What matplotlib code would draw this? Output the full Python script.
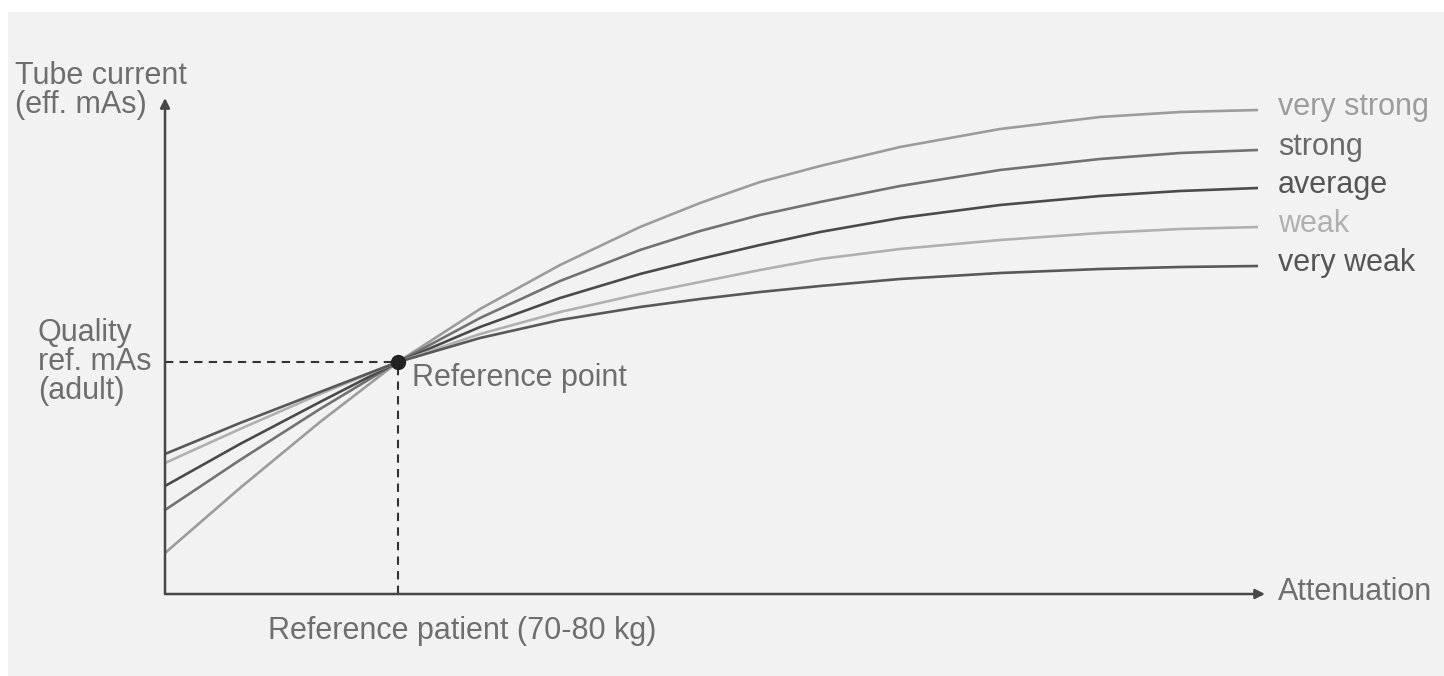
import numpy as np
import matplotlib
matplotlib.use('Agg')
import matplotlib.pyplot as plt
from matplotlib.patches import Rectangle

plt.rcParams['font.family'] = ['Liberation Sans', 'DejaVu Sans']

# attenuation (arbitrary units, 0 = axis origin, 100 = arrow tip)
attenuation = [0, 6.82, 14.09, 21.18, 28.64, 35.91, 43.18, 48.64, 54.09,
               59.55, 66.82, 75.91, 85.0, 92.27, 99.36]

# tube current (arbitrary units) for each modulation strength
very_strong = [8.2, 21.2, 34.4, 46.4, 57.0, 65.8, 73.4, 78.2, 82.4, 85.6, 89.4, 93.0, 95.4, 96.4, 96.8]
strong      = [16.8, 26.8, 37.0, 46.4, 55.2, 62.6, 68.8, 72.6, 75.8, 78.4, 81.6, 84.8, 87.0, 88.2, 88.8]
average     = [21.6, 30.0, 38.4, 46.4, 53.4, 59.2, 64.0, 67.0, 69.8, 72.4, 75.2, 77.8, 79.6, 80.6, 81.2]
weak        = [26.2, 33.0, 40.0, 46.4, 52.0, 56.4, 60.0, 62.4, 64.8, 67.0, 69.0, 70.8, 72.2, 73.0, 73.4]
very_weak   = [28.0, 34.2, 40.4, 46.4, 51.2, 54.8, 57.4, 59.0, 60.4, 61.6, 63.0, 64.2, 65.0, 65.4, 65.6]

series_labels = ['very strong', 'strong', 'average', 'weak', 'very weak']
series_values = [very_strong, strong, average, weak, very_weak]
line_colors = ['#9c9c9c', '#727272', '#4a4a4a', '#b0b0b0', '#585858']
text_colors = ['#9c9c9c', '#6a6a6a', '#555555', '#b0b0b0', '#555555']

ref_point = (21.18, 46.4)

fig = plt.figure(figsize=(14.44, 6.76), dpi=100, facecolor='white')
bg = Rectangle((8 / 1444, 0), 1 - 8 / 1444, 1 - 12 / 676,
               transform=fig.transFigure, facecolor='#f2f2f2',
               edgecolor='none', zorder=-10)
fig.add_artist(bg)
ax = fig.add_axes([0, 0, 1, 1])
ax.set_facecolor('none')
ax.patch.set_alpha(0)
ax.set_xlim(-15, 116.27)
ax.set_ylim(-16.4, 118.8)
ax.axis('off')

txt = '#6e6e6e'
fs = 22

# curves
for lab, vals, lc, tc in zip(series_labels, series_values, line_colors, text_colors):
    ax.plot(attenuation, vals, color=lc, lw=1.9, solid_capstyle='butt',
            solid_joinstyle='round', zorder=3)
    ax.text(101.2, vals[-1] + 0.5, lab, color=tc, fontsize=fs, ha='left', va='center')

# axes with arrows
arrow_kw = dict(arrowstyle='-|>', color='#474747', lw=1.8, mutation_scale=14,
                shrinkA=0, shrinkB=0)
ax.annotate('', xy=(0, 99.2), xytext=(0, 0), arrowprops=arrow_kw)
ax.annotate('', xy=(100, 0), xytext=(0, 0), arrowprops=arrow_kw)

# reference lines and point
ax.plot([0, ref_point[0]], [ref_point[1], ref_point[1]], color='#333333', lw=1.5,
        dashes=(4, 3), zorder=2)
ax.plot([ref_point[0], ref_point[0]], [0, ref_point[1]], color='#333333', lw=1.5,
        dashes=(4, 3), zorder=2)
ax.plot(*ref_point, 'o', color='#222222', ms=10, zorder=5)

# labels
ax.text(-13.64, 103.6, 'Tube current', color=txt, fontsize=fs, ha='left', va='center')
ax.text(-13.64, 97.8, '(eff. mAs)', color=txt, fontsize=fs, ha='left', va='center')
ax.text(-11.55, 52.2, 'Quality', color=txt, fontsize=fs, ha='left', va='center')
ax.text(-11.55, 46.4, 'ref. mAs', color=txt, fontsize=fs, ha='left', va='center')
ax.text(-11.55, 40.6, '(adult)', color=txt, fontsize=fs, ha='left', va='center')
ax.text(22.45, 43.2, 'Reference point', color=txt, fontsize=fs, ha='left', va='center')
ax.text(9.36, -7.4, 'Reference patient (70-80 kg)', color=txt, fontsize=fs,
        ha='left', va='center')
ax.text(101.2, 0.4, 'Attenuation', color=txt, fontsize=fs, ha='left', va='center')

fig.savefig('out.png', dpi=100, facecolor=fig.get_facecolor())
